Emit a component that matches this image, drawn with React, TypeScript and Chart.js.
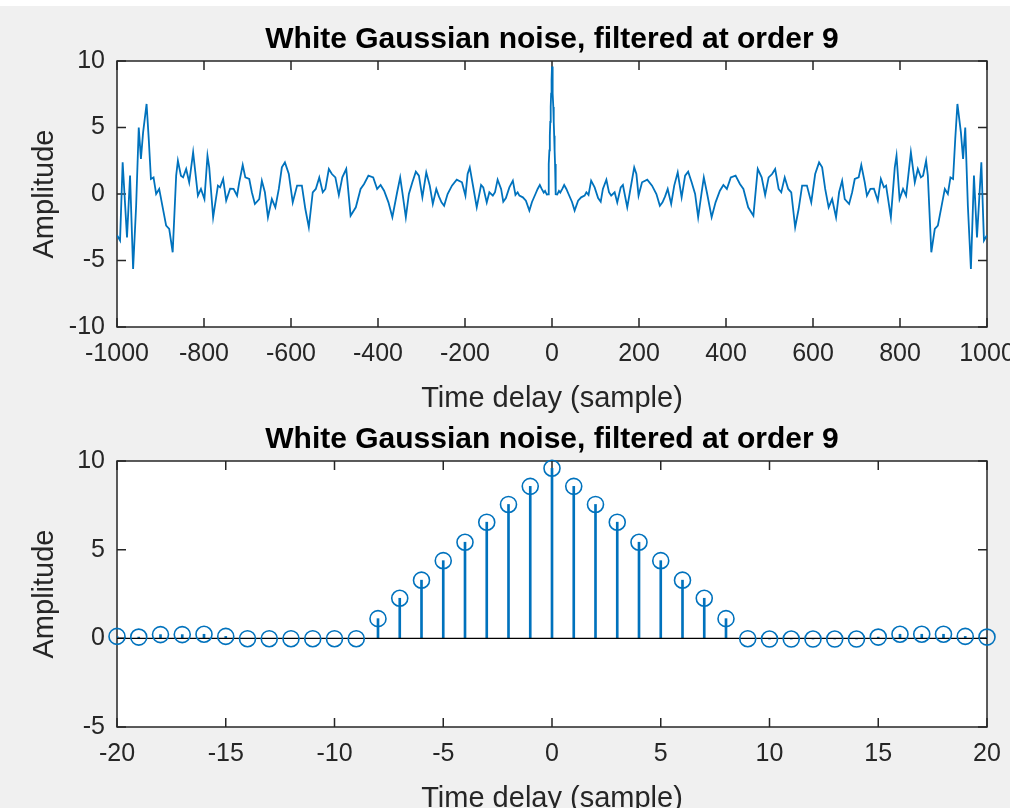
import React, { useEffect, useRef } from "react";
import { Chart, registerables } from "chart.js";

Chart.register(...registerables);

const TITLE = "White Gaussian noise, filtered at order 9";
const X_LABEL = "Time delay (sample)";
const Y_LABEL = "Amplitude";

// Top panel: full autocorrelation, lag -1000..1000
const longLags = [
  -1000, -993, -987, -977, -970, -963, -956, -950, -945, -940, -932, -927, -922, -916, -910, -903,
  -895, -887, -880, -872, -864, -860, -853, -848, -841, -834, -825, -814, -807, -799, -792, -788,
  -779, -768, -763, -756, -749, -740, -732, -724, -719, -711, -705, -696, -690, -683, -673, -667,
  -660, -653, -644, -636, -628, -621, -614, -605, -596, -586, -575, -567, -559, -550, -543, -535,
  -527, -521, -513, -506, -498, -490, -482, -473, -463, -451, -440, -432, -422, -411, -402, -394,
  -386, -376, -367, -356, -349, -344, -336, -329, -321, -313, -306, -298, -289, -281, -274, -266,
  -260, -254, -248, -240, -230, -219, -207, -199, -194, -189, -179, -173, -163, -158, -150, -144,
  -136, -131, -125, -117, -112, -106, -98, -90, -84, -79, -75, -67, -60, -52, -46, -38,
  -33, -28, -24, -19, -16, -12, -9, -8, -7, -6, -5, -4, -3, -2, -1,
  0,
  1, 2, 3, 4, 5, 6, 7, 8, 9, 12, 16, 19, 24, 28, 33,
  38, 46, 52, 60, 67, 75, 79, 84, 90, 98, 106, 112, 117, 125, 131, 136,
  144, 150, 158, 163, 173, 179, 189, 194, 199, 207, 219, 230, 240, 248, 254, 260,
  266, 274, 281, 289, 298, 306, 313, 321, 329, 336, 344, 349, 356, 367, 376, 386,
  394, 402, 411, 422, 432, 440, 451, 463, 473, 482, 490, 498, 506, 513, 521, 527,
  535, 543, 550, 559, 567, 575, 586, 596, 605, 614, 621, 628, 636, 644, 653, 660,
  667, 673, 683, 690, 696, 705, 711, 719, 724, 732, 740, 749, 756, 763, 768, 779,
  788, 792, 799, 807, 814, 825, 834, 841, 848, 853, 860, 864, 872, 880, 887, 895,
  903, 910, 916, 922, 927, 932, 940, 945, 950, 956, 963, 970, 977, 987, 993, 1000,
];
const longAmps = [
  -3.1, -3.5, 2.38, -3.26, 1.38, -5.64, -0.88, 5.0, 2.63, 4.63, 6.77, 4.13, 1.13, 1.25, 0, 0.38,
  -1.0, -2.38, -2.63, -4.38, 1.38, 2.5, 1.38, 1.25, 1.88, 0.88, 3.13, -0.12, 0.38, -0.38, 2.88, 2.0,
  -1.75, 0.63, 0.5, 1.13, -0.5, 0.4, 0.38, -0.12, 0.88, 2.18, 1.25, 1.13, 0.13, -0.75, -0.38, 1.0,
  0.13, -1.75, -0.38, -1.0, 0.38, 2.0, 2.38, 1.5, -0.63, 0.63, 0.63, -1.13, -2.5, 0.13, 0.38, 1.25,
  0.13, 0.38, 1.88, 1.5, 1.25, -0.08, 1.25, 1.88, -1.63, -1.0, 0.38, 0.75, 1.38, 1.25, 0.38, 0.68,
  0.25, -0.63, -1.75, 0.13, 1.25, 0.13, -1.75, 0, 0.88, 1.68, 1.38, -0.25, 1.63, 0.63, -0.75, 0.38,
  -0.18, -0.63, -0.88, 0, 0.63, 1.08, 0.88, -0.12, 1.5, 2.0, 0.13, -1.0, 0.68, 0.5, -0.63, 0.13,
  -0.12, 0.13, 1.08, 0.38, -0.58, -0.3, 0.5, 1.0, -0.07, 0.13, -0.12, -0.25, -0.5, -1.25, -0.6, 0,
  0.38, 0.68, 0.4, 0.11, 0.23, -0.04, -0.02, 1.11, 2.26, 3.28, 4.38, 5.42, 6.55, 7.55, 8.57,
  9.59,
  8.57, 7.55, 6.55, 5.42, 4.38, 3.28, 2.26, 1.11, -0.02, -0.04, 0.23, 0.11, 0.4, 0.68, 0.38,
  0, -0.6, -1.25, -0.5, -0.25, -0.12, 0.13, -0.07, 1.0, 0.5, -0.3, -0.58, 0.38, 1.08, 0.13, -0.12,
  0.13, -0.63, 0.5, 0.68, -1.0, 0.13, 2.0, 1.5, -0.12, 0.88, 1.08, 0.63, 0, -0.88, -0.63, -0.18,
  0.38, -0.75, 0.63, 1.63, -0.25, 1.38, 1.68, 0.88, 0, -1.75, 0.13, 1.25, 0.13, -1.75, -0.63, 0.25,
  0.68, 0.38, 1.25, 1.38, 0.75, 0.38, -1.0, -1.63, 1.88, 1.25, -0.08, 1.25, 1.5, 1.88, 0.38, 0.13,
  1.25, 0.38, 0.13, -2.5, -1.13, 0.63, 0.63, -0.63, 1.5, 2.38, 2.0, 0.38, -1.0, -0.38, -1.75, 0.13,
  1.0, -0.38, -0.75, 0.13, 1.13, 1.25, 2.18, 0.88, -0.12, 0.38, 0.4, -0.5, 1.13, 0.5, 0.63, -1.75,
  2.0, 2.88, -0.38, 0.38, -0.12, 3.13, 0.88, 1.88, 1.25, 1.38, 2.5, 1.38, -4.38, -2.63, -2.38, -1.0,
  0.38, 0, 1.25, 1.13, 4.13, 6.77, 4.63, 2.63, 5.0, -0.88, -5.64, 1.38, -3.26, 2.38, -3.5, -3.1,
];
const longXTicks = [-1000, -800, -600, -400, -200, 0, 200, 400, 600, 800, 1000];
const longYTicks = [-10, -5, 0, 5, 10];

// Bottom panel: zoom on lag -20..20 (stem plot)
const stemLags = [
  -20, -19, -18, -17, -16, -15, -14, -13, -12, -11, -10, -9, -8, -7, -6, -5, -4, -3, -2, -1,
  0, 1, 2, 3, 4, 5, 6, 7, 8, 9, 10, 11, 12, 13, 14, 15, 16, 17, 18, 19, 20,
];
const stemAmps = [
  0.11, 0.07, 0.21, 0.21, 0.23, 0.11, -0.02, -0.02, -0.02, -0.02, -0.02, -0.02, 1.11, 2.26, 3.28, 4.38, 5.42, 6.55, 7.55, 8.57,
  9.59, 8.57, 7.55, 6.55, 5.42, 4.38, 3.28, 2.26, 1.11, -0.02, -0.04, -0.04, -0.04, -0.04, -0.04, 0.07, 0.23, 0.23, 0.23, 0.11, 0.07,
];
const stemXTicks = [-20, -15, -10, -5, 0, 5, 10, 15, 20];
const stemYTicks = [-5, 0, 5, 10];

const BLUE = "#0072BD";
const AXIS = "#262626";
const FONT = "'Liberation Sans', Arial, Helvetica, sans-serif";
const TICK_FONT = 25;
const LABEL_FONT = 29;
const TITLE_FONT = 30;
const TICK_LEN = 9;

const boxPlugin = {
  id: "matlabBox",
  beforeDraw(chart: any) {
    const { ctx, chartArea: a } = chart;
    ctx.save();
    ctx.fillStyle = "#ffffff";
    ctx.fillRect(a.left, a.top, a.right - a.left, a.bottom - a.top);
    ctx.restore();
  },
  beforeDatasetsDraw(chart: any) {
    const { ctx, chartArea: a, scales } = chart;
    ctx.save();
    ctx.strokeStyle = AXIS;
    ctx.lineWidth = 1.5;
    ctx.beginPath();
    for (const t of scales.x.ticks) {
      const px = scales.x.getPixelForValue(t.value);
      ctx.moveTo(px, a.bottom);
      ctx.lineTo(px, a.bottom - TICK_LEN);
      ctx.moveTo(px, a.top);
      ctx.lineTo(px, a.top + TICK_LEN);
    }
    for (const t of scales.y.ticks) {
      const py = scales.y.getPixelForValue(t.value);
      ctx.moveTo(a.left, py);
      ctx.lineTo(a.left + TICK_LEN, py);
      ctx.moveTo(a.right, py);
      ctx.lineTo(a.right - TICK_LEN, py);
    }
    ctx.stroke();
    ctx.strokeRect(a.left, a.top, a.right - a.left, a.bottom - a.top);
    ctx.restore();
  },
};

function makeOptions(xMin: number, xMax: number, xTicks: number[], yMin: number, yMax: number, yTicks: number[]) {
  const titleLH = TITLE_FONT * 1.2;
  const titleTop = 40 - titleLH / 2;
  return {
    responsive: false,
    animation: false as const,
    layout: { padding: { left: 0, right: 23, top: 0, bottom: 0 } },
    plugins: {
      legend: { display: false },
      tooltip: { enabled: false },
      title: {
        display: true,
        text: TITLE,
        fullSize: false,
        color: "#000000",
        font: { family: FONT, size: TITLE_FONT, weight: "bold" as const, lineHeight: 1.2 },
        padding: { top: titleTop, bottom: 61 - titleTop - titleLH },
      },
    },
    scales: {
      x: {
        type: "linear" as const,
        min: xMin,
        max: xMax,
        offset: false,
        afterBuildTicks: (s: any) => {
          s.ticks = xTicks.map((v) => ({ value: v }));
        },
        afterFit: (s: any) => {
          s.height = 93;
          s.paddingLeft = 0;
          s.paddingRight = 0;
        },
        grid: { display: false, drawTicks: false },
        border: { display: false },
        ticks: {
          autoSkip: false,
          maxRotation: 0,
          minRotation: 0,
          padding: 12,
          color: AXIS,
          font: { family: FONT, size: TICK_FONT },
          callback: (v: any) => String(v),
        },
        title: {
          display: true,
          text: X_LABEL,
          color: AXIS,
          font: { family: FONT, size: LABEL_FONT, lineHeight: 1.2 },
          padding: { top: 0, bottom: 4 },
        },
      },
      y: {
        type: "linear" as const,
        min: yMin,
        max: yMax,
        afterBuildTicks: (s: any) => {
          s.ticks = yTicks.map((v) => ({ value: v }));
        },
        afterFit: (s: any) => {
          s.width = 117;
          s.paddingTop = 0;
          s.paddingBottom = 0;
        },
        grid: { display: false, drawTicks: false },
        border: { display: false },
        ticks: {
          autoSkip: false,
          padding: 12,
          color: AXIS,
          font: { family: FONT, size: TICK_FONT },
          callback: (v: any) => String(v),
        },
        title: {
          display: true,
          text: Y_LABEL,
          color: AXIS,
          font: { family: FONT, size: LABEL_FONT, lineHeight: 1.2 },
          padding: { top: 45 - (LABEL_FONT * 1.2) / 2, bottom: 0 },
        },
      },
    },
  };
}

export default function App() {
  const topRef = useRef<HTMLCanvasElement | null>(null);
  const botRef = useRef<HTMLCanvasElement | null>(null);

  useEffect(() => {
    const longData = longLags.map((x, i) => ({ x, y: longAmps[i] }));
    const stemData = stemLags.map((x, i) => ({ x, y: stemAmps[i] }));

    const top = new Chart(topRef.current as HTMLCanvasElement, {
      type: "scatter",
      data: {
        datasets: [
          {
            data: longData,
            showLine: true,
            borderColor: BLUE,
            borderWidth: 1.8,
            pointRadius: 0,
            tension: 0,
          },
        ],
      },
      options: makeOptions(-1000, 1000, longXTicks, -10, 10, longYTicks) as any,
      plugins: [boxPlugin],
    });

    const bot = new Chart(botRef.current as HTMLCanvasElement, {
      type: "bar",
      data: {
        datasets: [
          {
            type: "bar",
            data: stemData,
            backgroundColor: BLUE,
            borderWidth: 0,
            barThickness: 2,
            order: 3,
          } as any,
          {
            type: "line",
            data: [
              { x: stemLags[0], y: 0 },
              { x: stemLags[stemLags.length - 1], y: 0 },
            ],
            borderColor: "#000000",
            borderWidth: 1.2,
            pointRadius: 0,
            order: 2,
          } as any,
          {
            type: "line",
            data: stemData,
            showLine: false,
            pointRadius: 8,
            pointBorderWidth: 1.6,
            pointBorderColor: BLUE,
            pointBackgroundColor: "rgba(0,0,0,0)",
            clip: false,
            order: 1,
          } as any,
        ],
      },
      options: makeOptions(-20, 20, stemXTicks, -5, 10, stemYTicks) as any,
      plugins: [boxPlugin],
    });

    return () => {
      top.destroy();
      bot.destroy();
    };
  }, []);

  return (
    <div
      style={{
        position: "fixed",
        left: 0,
        top: 0,
        width: 1010,
        height: 808,
        background: "#f0f0f0",
        overflow: "hidden",
      }}
    >
      <div style={{ position: "absolute", left: 0, top: 0, width: 1010, height: 6, background: "#ffffff" }} />
      <canvas ref={topRef} width={1010} height={420} style={{ position: "absolute", left: 0, top: 0 }} />
      <canvas ref={botRef} width={1010} height={420} style={{ position: "absolute", left: 0, top: 400 }} />
    </div>
  );
}
